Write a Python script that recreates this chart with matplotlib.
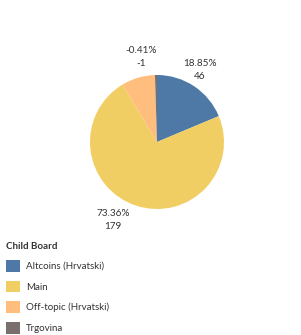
import matplotlib
matplotlib.use("Agg")
import matplotlib.pyplot as plt

# data
boards = ["Altcoins (Hrvatski)", "Main", "Off-topic (Hrvatski)", "Trgovina"]
slice_sizes = [46, 179, 20, 1.2]
pct_labels = ["18.85%", "73.36%", "-0.41%", None]
count_labels = ["46", "179", "-1", None]
colors = ["#4e79a7", "#f1ce63", "#ffbe7d", "#79706e"]

plt.rcParams["font.family"] = ["Lato", "DejaVu Sans"]

W, H = 301, 335
fig = plt.figure(figsize=(W / 100, H / 100), dpi=100)
ax = fig.add_axes([0, 0, 1, 1])

cx, cy, r = 157, H - 142, 67
wedges, _ = ax.pie(slice_sizes, colors=colors, startangle=90, counterclock=False,
                   center=(cx, cy), radius=r, frame=True,
                   wedgeprops=dict(linewidth=0))
ax.set_xlim(0, W)
ax.set_ylim(0, H)
ax.set_aspect("equal")
ax.axis("off")

# label positions (pixel coords, top-left origin)
label_pos = [(200, 70), (113, 220), (141, 57), None]
for pct, cnt, pos in zip(pct_labels, count_labels, label_pos):
    if pct is None:
        continue
    ax.text(pos[0], H - pos[1], f"{pct}\n{cnt}", ha="center", va="center",
            fontsize=7.2, color="#333333", linespacing=1.5)

leg = fig.legend(wedges, boards, title="Child Board", loc="upper left",
                 bbox_to_anchor=(2 / W, 1 - 238 / H), frameon=False,
                 fontsize=7, title_fontsize=7, alignment="left",
                 handlelength=1.45, handleheight=1.45, handletextpad=0.6,
                 labelspacing=0.94, borderaxespad=0)
leg.get_title().set_fontweight("bold")
leg.get_title().set_color("#333333")
for t in leg.get_texts():
    t.set_color("#333333")

fig.savefig("out.png", dpi=100)
